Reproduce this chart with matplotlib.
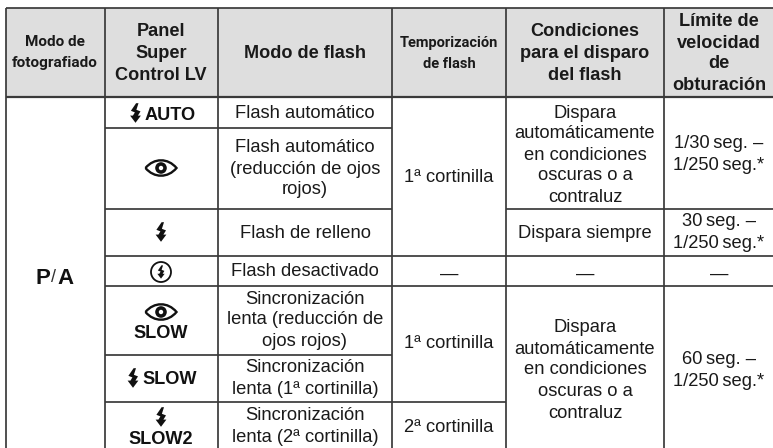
import matplotlib
matplotlib.use('Agg')
import matplotlib.pyplot as plt
from matplotlib.patches import Rectangle, Polygon, Circle, PathPatch
from matplotlib.path import Path

W, H = 773, 448
LINE = '#3a3a3a'
HEAD_BG = '#dedede'
TXT = '#1a1a1a'
ICON = '#111111'

# table content
head_narrow = ["Modo de\nfotografiado", "Temporización\nde flash"]
head_bold = ["Panel\nSuper\nControl LV", "Modo de flash", "Condiciones\npara el disparo\ndel flash",
             "Límite de\nvelocidad\nde\nobturación"]
flash_modes = ["Flash automático", "Flash automático\n(reducción de ojos\nrojos)", "Flash de relleno",
               "Flash desactivado", "Sincronización\nlenta (reducción de\nojos rojos)",
               "Sincronización\nlenta (1ª cortinilla)", "Sincronización\nlenta (2ª cortinilla)"]
timing = ["1ª cortinilla", "—", "1ª cortinilla", "2ª cortinilla"]
conditions = ["Dispara\nautomáticamente\nen condiciones\noscuras o a\ncontraluz", "Dispara siempre", "—",
              "Dispara\nautomáticamente\nen condiciones\noscuras o a\ncontraluz"]
shutter = ["1/30\u2009seg. –\n1/250\u2009seg.*", "30\u2009seg. –\n1/250\u2009seg.*", "—",
           "60\u2009seg. –\n1/250\u2009seg.*"]

# grid layout in pixels
col_x = [6, 105, 218, 392, 506, 664]
head_top, head_bot = 8, 97
h_lines = [(128, 105, 392), (209, 105, 392), (209, 506, W), (256, 105, W), (286, 105, W),
           (355, 105, 392), (402, 105, 506)]

SANS = 'Liberation Sans'
NARROW = 'Roboto'

fig = plt.figure(figsize=(W / 100, H / 100), dpi=100)
ax = fig.add_axes([0, 0, 1, 1])
ax.set_xlim(0, W)
ax.set_ylim(H, 0)
ax.axis('off')


def block(x, ys, s, size=13.2, weight='normal', family=SANS):
    # each line is placed on its own so the pitch follows the reference
    for y, line in zip(ys, s.split('\n')):
        ax.text(x, y, line, ha='center', va='center_baseline', fontsize=size, fontweight=weight,
                family=family, color=TXT)


def label(x, y, s, size=13.1):
    ax.text(x, y, s, ha='center', va='center_baseline', fontsize=size, fontweight='bold',
            family=SANS, color=ICON)


def bolt(cx, cy, k=1.0):
    pts = [(0.6, -9.8), (-4.6, -2.2), (-0.6, -0.6), (-2.6, 2.6), (-5.4, 2.6), (0, 9.8), (5.4, 2.6),
           (2.4, 2.6), (5.0, -1.6), (0.9, -3.2), (3.0, -9.8)]
    ax.add_patch(Polygon([(cx + a * k, cy + b * k) for a, b in pts], closed=True, fc=ICON, ec='none', zorder=3))


def eye(cx, cy):
    w, h = 15.5, 8.2
    verts = [(cx - w, cy), (cx - w * 0.45, cy - h * 1.25), (cx + w * 0.45, cy - h * 1.25), (cx + w, cy),
             (cx + w * 0.45, cy + h * 1.25), (cx - w * 0.45, cy + h * 1.25), (cx - w, cy)]
    codes = [Path.MOVETO] + [Path.CURVE4] * 6
    ax.add_patch(PathPatch(Path(verts, codes), fc='white', ec=ICON, lw=1.7, zorder=3))
    ax.add_patch(Circle((cx, cy), 5.8, fc=ICON, ec='none', zorder=4))
    ax.add_patch(Circle((cx, cy), 2.2, fc='white', ec='none', zorder=5))


# header band
ax.add_patch(Rectangle((col_x[0], head_top), W - col_x[0], head_bot - head_top, fc=HEAD_BG, ec='none', zorder=0))

# grid
for x in col_x:
    ax.plot([x, x], [head_top, H], color=LINE, lw=1.25, solid_capstyle='butt', zorder=2)
ax.plot([col_x[0], W], [head_top, head_top], color=LINE, lw=1.25, solid_capstyle='butt', zorder=2)
ax.plot([col_x[0], W], [head_bot, head_bot], color=LINE, lw=1.6, solid_capstyle='butt', zorder=2)
for y, x0, x1 in h_lines:
    ax.plot([x0, x1], [y, y], color=LINE, lw=1.25, solid_capstyle='butt', zorder=2)

# header text, the two narrow ones are sized to the reference width
block(55, [41, 62], head_narrow[0], size=11, weight='bold', family=NARROW)
block(449, [41, 62], head_narrow[1], size=10.5, weight='bold', family=NARROW)
block(161, [30, 52, 74], head_bold[0], size=13.1, weight='bold')
block(305, [51], head_bold[1], size=13.1, weight='bold')
block(585, [30, 52, 74], head_bold[2], size=13.1, weight='bold')
block(719, [19, 41, 62, 84], head_bold[3], size=13.1, weight='bold')

# P/A cell
label(43, 276, 'P', size=16)
ax.text(53.5, 276, '/', ha='center', va='center_baseline', fontsize=13, family=SANS, color='#333333')
label(65, 276, 'A', size=16)

# panel icons
bolt(135.5, 113)
label(170, 113, 'AUTO')
eye(161, 168)
bolt(161, 232)
ax.add_patch(Circle((161, 272), 10, fc='white', ec=ICON, lw=1.3, zorder=3))
bolt(161, 272, k=0.68)
eye(161, 312)
label(161, 332, 'SLOW')
bolt(133, 378)
label(170, 378, 'SLOW')
bolt(161, 417)
label(161, 438, 'SLOW2')

# flash mode column
mode_y = [[111], [145, 167, 188], [231], [269], [297, 318, 339], [366, 387], [414, 436]]
for ys, s in zip(mode_y, flash_modes):
    block(305, ys, s)

# timing column
for y, s in zip([175, 272, 341, 426], timing):
    block(449, [y], s)

# conditions column
cond_y = [[111, 132, 153, 174, 195], [231], [272], [326, 347, 368, 390, 411]]
for ys, s in zip(cond_y, conditions):
    block(585, ys, s)

# shutter column
shut_y = [[142, 163], [219, 241], [272], [358, 379]]
for ys, s in zip(shut_y, shutter):
    block(719, ys, s)

fig.savefig('out.png', dpi=100)
